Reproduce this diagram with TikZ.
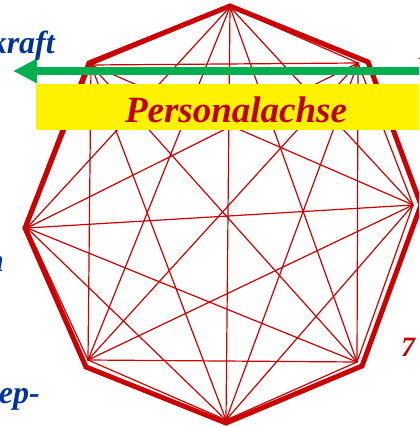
\documentclass[tikz,border=0pt]{standalone}
\usepackage{fontspec}
\setmainfont{Liberation Serif}
\usetikzlibrary{arrows.meta}

\definecolor{polyred}{RGB}{204,0,0}
\definecolor{labelred}{RGB}{192,0,0}
\definecolor{axisgreen}{RGB}{0,176,80}
\definecolor{labelblue}{RGB}{0,51,153}

\begin{document}
\begin{tikzpicture}[
	x=1pt, y=-1pt,
	line cap=round,
	line join=round,
	every node/.style={font=\bfseries\itshape, inner sep=0pt},
	chord/.style={polyred, line width=1.2pt},
	rim/.style={polyred, line width=5pt, line join=miter},
	axisarrow/.style={axisgreen, line width=8pt, line cap=butt, -{Triangle[length=24pt,width=23pt]}},
	yellowbar/.style={fill=yellow, minimum width=400pt, minimum height=46pt},
	bluelabel/.style={labelblue, font=\fontsize{32}{34}\selectfont\bfseries\itshape},
	redlabel/.style={labelred, font=\fontsize{28}{30}\selectfont\bfseries\itshape}
	]
	
	% Frame
	\useasboundingbox (0,0) rectangle (419,427);
	\clip (0,0) rectangle (419,427);
	
	% Corners of the star
	\coordinate (p1) at (230,7);
	\coordinate (p2) at (358,63);
	\coordinate (p3) at (413,205);
	\coordinate (p4) at (357,362);
	\coordinate (p5) at (226,420);
	\coordinate (p6) at (88,360);
	\coordinate (p7) at (27,228);
	\coordinate (p8) at (91,65);
	
	% Corners of the rim
	\coordinate (o1) at (230,6);
	\coordinate (o2) at (368,62);
	\coordinate (o3) at (421,205);
	\coordinate (o4) at (362,366);
	\coordinate (o5) at (226,423);
	\coordinate (o6) at (86,367);
	\coordinate (o7) at (25,228);
	\coordinate (o8) at (89,63);
	
	% Every corner joined to every other
	\foreach \i in {1,...,7}{
		\pgfmathtruncatemacro\nxt{\i+1}
		\foreach \k in {\nxt,...,8}
		\draw[chord] (p\i) -- (p\k);
	}
	
	% Octagon rim
	\draw[rim] (o1) -- (o2) -- (o3) -- (o4) -- (o5) -- (o6) -- (o7) -- (o8) -- cycle;
	
	% Green axis
	\coordinate (axisstart) at (430,71);
	\coordinate (axistip) at (13,71);
	\draw[axisarrow] (axisstart) -- (axistip);
	
	% Yellow bar and title
	\node[yellowbar] (bar) at (236,107) {};
	\node[labelred, anchor=base, font=\fontsize{37}{40}\selectfont\bfseries\itshape] (title) at (236,123) {Personalachse};
	
	% Cut labels at the edges
	\node[bluelabel, anchor=base east] (kraft) at (55,54) {kraft};
	\node[bluelabel, anchor=base east] (leftn) at (4,271) {n};
	\node[bluelabel, anchor=base east] (bottomep) at (40,403) {ep-};
	\node[redlabel, anchor=base west] (seven) at (401,356) {7};
	\node[redlabel, anchor=base west] (topone) at (418,60) {1};
	
\end{tikzpicture}
\end{document}
